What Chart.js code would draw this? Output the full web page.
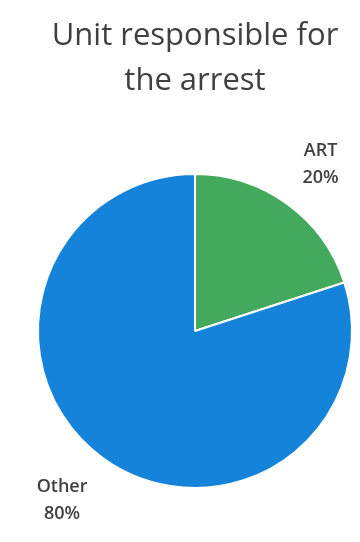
<!DOCTYPE html>
<html>
<head>
<meta charset="utf-8">
<script src="https://cdn.jsdelivr.net/npm/chart.js@4.4.1/dist/chart.umd.min.js"></script>
<style>
  html, body { margin: 0; padding: 0; background: #ffffff; }
  #wrap { width: 360px; height: 542px; position: relative; }
</style>
</head>
<body>
<div id="wrap"><canvas id="pie"></canvas></div>
<script>
// Share of arrests by unit
const categories = ['ART', 'Other'];
const shares = [20, 80];
const sliceColors = ['#43a95c', '#1583d9'];
const titleLines = ['Unit responsible for', 'the arrest'];

// Category name + percentage outside each slice: the label box's nearest
// corner sits on a point just beyond the rim, along the slice's mid-angle.
const outsideLabels = {
  id: 'outsideLabels',
  afterDatasetsDraw(chart) {
    const ctx = chart.ctx;
    const meta = chart.getDatasetMeta(0);
    const capH = 13, lineGap = 27, boxH = capH + lineGap;
    ctx.save();
    ctx.fillStyle = '#404040';
    ctx.textAlign = 'center';
    ctx.textBaseline = 'alphabetic';
    ctx.font = '600 18px "Open Sans", sans-serif';
    meta.data.forEach((arc, i) => {
      const p = arc.getProps(['x', 'y', 'startAngle', 'endAngle', 'outerRadius'], true);
      const mid = (p.startAngle + p.endAngle) / 2;
      const r = p.outerRadius * 1.165;
      const ax = p.x + Math.cos(mid) * r;
      const ay = p.y + Math.sin(mid) * r;
      const l1 = categories[i], l2 = shares[i] + '%';
      const w = Math.max(ctx.measureText(l1).width, ctx.measureText(l2).width);
      const left = Math.cos(mid) >= 0 ? ax : ax - w;
      const top = Math.sin(mid) < 0 ? ay - boxH : ay;
      const cx = left + w / 2;
      ctx.fillText(l1, cx, top + capH);
      ctx.fillText(l2, cx, top + capH + lineGap);
    });
    ctx.restore();
  }
};

new Chart(document.getElementById('pie'), {
  type: 'pie',
  data: {
    labels: categories,
    datasets: [{
      data: shares,
      backgroundColor: sliceColors,
      borderColor: '#ffffff',
      borderWidth: 2
    }]
  },
  options: {
    responsive: true,
    maintainAspectRatio: false,
    animation: false,
    layout: { padding: { left: 36, right: 6, top: 0, bottom: 53 } },
    plugins: {
      legend: { display: false },
      tooltip: { enabled: false },
      title: {
        display: true,
        text: titleLines,
        color: '#404040',
        font: { family: '"Open Sans", sans-serif', size: 31, weight: 'normal', lineHeight: 45 / 31 },
        padding: { top: 13.5, bottom: 69.5 }
      }
    }
  },
  plugins: [outsideLabels]
});
</script>
</body>
</html>
